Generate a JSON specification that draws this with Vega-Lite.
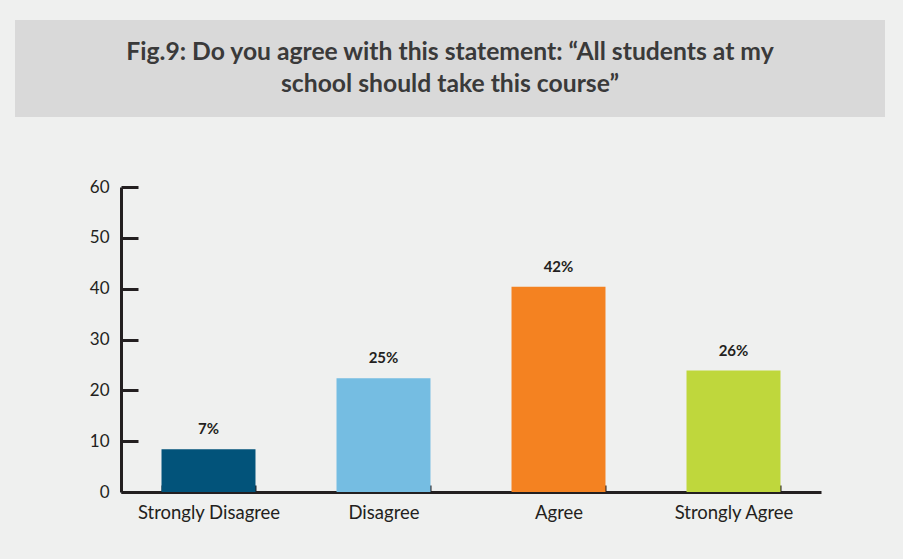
{
  "$schema": "https://vega.github.io/schema/vega-lite/v6.json",
  "background": "#eff0ef",
  "padding": {"left": 15, "top": 20, "right": 18, "bottom": 42},
  "config": {
    "view": {"stroke": null},
    "font": "Lato"
  },
  "spacing": 61,
  "vconcat": [
    {
      "width": 870,
      "height": 97,
      "view": {"fill": "#d9d9d9", "stroke": null},
      "data": {"values": [{"title": "Fig.9: Do you agree with this statement: \u201cAll students at my\nschool should take this course\u201d"}]},
      "mark": {"type": "text", "lineBreak": "\n", "font": "Lato", "fontWeight": "bold", "fontSize": 24.7, "lineHeight": 32, "color": "#3a3a3a", "align": "center", "baseline": "middle", "dy": -16},
      "encoding": {"text": {"field": "title", "type": "nominal"}}
    },
    {
      "width": 870,
      "height": 305,
      "data": {"values": [
        {"response": "Strongly Disagree", "value": 8.4, "label": "7%"},
        {"response": "Disagree", "value": 22.4, "label": "25%"},
        {"response": "Agree", "value": 40.4, "label": "42%"},
        {"response": "Strongly Agree", "value": 23.9, "label": "26%"}
      ]},
      "encoding": {
        "x": {
          "field": "response", "type": "nominal", "sort": null,
          "scale": {"range": [106, 806], "paddingInner": 0.463, "paddingOuter": 0.2315},
          "axis": {"title": null, "labelAngle": 0, "labelFontSize": 18.5, "labelColor": "#231f20", "labelFont": "Lato", "labelPadding": 18,
                   "domainColor": "#231f20", "domainWidth": 3, "tickBand": "extent", "tickSize": -7, "tickWidth": 2, "tickColor": "#231f20"}
        },
        "y": {
          "field": "value", "type": "quantitative",
          "scale": {"domain": [0, 60], "nice": false},
          "axis": {"title": null, "offset": -106, "values": [0, 10, 20, 30, 40, 50, 60], "grid": false, "labelFontSize": 17, "labelColor": "#231f20", "labelFont": "Lato", "labelPadding": 29,
                   "domainColor": "#231f20", "domainWidth": 3, "tickSize": -17, "tickWidth": 3, "tickColor": "#231f20"}
        }
      },
      "layer": [
        {
          "mark": {"type": "bar"},
          "encoding": {
            "color": {"field": "response", "type": "nominal", "sort": null, "legend": null,
                      "scale": {"domain": ["Strongly Disagree", "Disagree", "Agree", "Strongly Agree"], "range": ["#02537a", "#75bde2", "#f48221", "#bfd73c"]}}
          }
        },
        {
          "mark": {"type": "text", "font": "Lato", "fontWeight": "bold", "fontSize": 15, "color": "#231f20", "baseline": "middle", "dy": -20},
          "encoding": {"text": {"field": "label", "type": "nominal"}}
        }
      ]
    }
  ]
}
